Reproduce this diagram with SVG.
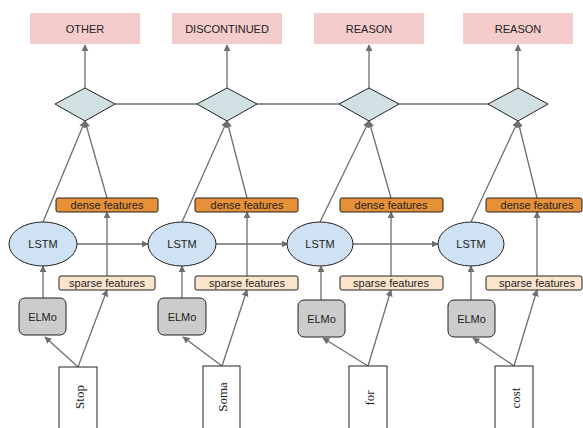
<svg xmlns="http://www.w3.org/2000/svg" width="583" height="428" viewBox="0 0 583 428">
<defs>
<marker id="ah" viewBox="0 0 10 10" refX="9" refY="5" markerWidth="7" markerHeight="7" markerUnits="userSpaceOnUse" orient="auto"><path d="M0,0 L10,5 L0,10 z" fill="#6e6e6e"/></marker>
<style>
.lbl{fill:#f4cccc}
.dia{fill:#d0e0e3;stroke:#222;stroke-width:1}
.lstm{fill:#cfe2f3;stroke:#222;stroke-width:1}
.dense{fill:#e69138;stroke:#222;stroke-width:1}
.sparse{fill:#fce5cd;stroke:#222;stroke-width:1}
.elmo{fill:#cccccc;stroke:#222;stroke-width:1}
.word{fill:#fff;stroke:#222;stroke-width:1}
.t{font-family:"Liberation Sans",Arial,sans-serif;font-size:11px;fill:#222;text-anchor:middle;dominant-baseline:central}
.w{font-family:"Liberation Serif","Times New Roman",serif;font-size:13px;fill:#222;text-anchor:middle;dominant-baseline:central}
.c{stroke:#6e6e6e;stroke-width:1.3;fill:none}
.a{marker-end:url(#ah)}
</style>
</defs>
<g id="connectors">
<line class="c" x1="115" y1="104" x2="197" y2="104"/>
<line class="c" x1="257" y1="104" x2="339" y2="104"/>
<line class="c" x1="399" y1="104" x2="488" y2="104"/>
<line class="c a" x1="85" y1="88" x2="85" y2="45"/>
<line class="c a" x1="227" y1="88" x2="227" y2="45"/>
<line class="c a" x1="369" y1="88" x2="369" y2="45"/>
<line class="c a" x1="518" y1="88" x2="518" y2="45"/>
<line class="c a" x1="43" y1="222" x2="85" y2="121"/>
<line class="c a" x1="107" y1="198" x2="85" y2="121"/>
<line class="c a" x1="182" y1="222" x2="227" y2="121"/>
<line class="c a" x1="247" y1="198" x2="227" y2="121"/>
<line class="c a" x1="320" y1="222" x2="369" y2="121"/>
<line class="c a" x1="391" y1="198" x2="369" y2="121"/>
<line class="c a" x1="471" y1="222" x2="518" y2="121"/>
<line class="c a" x1="537" y1="198" x2="518" y2="121"/>
<line class="c a" x1="77" y1="244" x2="148" y2="244"/>
<line class="c a" x1="216" y1="244" x2="288" y2="244"/>
<line class="c a" x1="353" y1="244" x2="438" y2="244"/>
<line class="c a" x1="107" y1="276" x2="107" y2="212"/>
<line class="c a" x1="247" y1="276" x2="247" y2="212"/>
<line class="c a" x1="391" y1="276" x2="391" y2="212"/>
<line class="c a" x1="537" y1="276" x2="537" y2="212"/>
<line class="c a" x1="43" y1="298" x2="43" y2="266"/>
<line class="c a" x1="182" y1="298" x2="182" y2="266"/>
<line class="c a" x1="321" y1="300" x2="321" y2="266"/>
<line class="c a" x1="471" y1="300" x2="471" y2="266"/>
<line class="c a" x1="78" y1="367" x2="45" y2="337"/>
<line class="c a" x1="78" y1="367" x2="107" y2="290"/>
<line class="c a" x1="222" y1="366" x2="183" y2="337"/>
<line class="c a" x1="222" y1="366" x2="247" y2="290"/>
<line class="c a" x1="368" y1="366" x2="323" y2="338"/>
<line class="c a" x1="368" y1="366" x2="391" y2="290"/>
<line class="c a" x1="514" y1="366" x2="473" y2="338"/>
<line class="c a" x1="514" y1="366" x2="537" y2="290"/>
</g>
<g id="out1"><rect class="lbl" x="30" y="13" width="110" height="31"/><text class="t" x="85" y="29">OTHER</text></g>
<g id="out2"><rect class="lbl" x="172" y="13" width="110" height="31"/><text class="t" x="227" y="29">DISCONTINUED</text></g>
<g id="out3"><rect class="lbl" x="314" y="13" width="110" height="31"/><text class="t" x="369" y="29">REASON</text></g>
<g id="out4"><rect class="lbl" x="463" y="13" width="110" height="31"/><text class="t" x="518" y="29">REASON</text></g>
<g id="dia1"><polygon class="dia" points="55,104 85,88 115,104 85,121"/></g>
<g id="dia2"><polygon class="dia" points="197,104 227,88 257,104 227,121"/></g>
<g id="dia3"><polygon class="dia" points="339,104 369,88 399,104 369,121"/></g>
<g id="dia4"><polygon class="dia" points="488,104 518,88 548,104 518,121"/></g>
<g id="dense1"><rect class="dense" x="56" y="198" width="102" height="14" rx="2"/><text class="t" x="107" y="205">dense features</text></g>
<g id="dense2"><rect class="dense" x="195" y="198" width="103" height="14" rx="2"/><text class="t" x="247" y="205">dense features</text></g>
<g id="dense3"><rect class="dense" x="340" y="198" width="103" height="14" rx="2"/><text class="t" x="391" y="205">dense features</text></g>
<g id="dense4"><rect class="dense" x="486" y="198" width="96" height="14" rx="2"/><text class="t" x="537" y="205">dense features</text></g>
<g id="lstm1"><ellipse class="lstm" cx="43" cy="244" rx="34" ry="22"/><text class="t" x="43" y="244">LSTM</text></g>
<g id="lstm2"><ellipse class="lstm" cx="182" cy="244" rx="34" ry="22"/><text class="t" x="182" y="244">LSTM</text></g>
<g id="lstm3"><ellipse class="lstm" cx="320" cy="244" rx="33" ry="22"/><text class="t" x="320" y="244">LSTM</text></g>
<g id="lstm4"><ellipse class="lstm" cx="471" cy="244" rx="33" ry="22"/><text class="t" x="471" y="244">LSTM</text></g>
<g id="sparse1"><rect class="sparse" x="59" y="276" width="96" height="14" rx="2"/><text class="t" x="107" y="283">sparse features</text></g>
<g id="sparse2"><rect class="sparse" x="195" y="276" width="103" height="14" rx="2"/><text class="t" x="247" y="283">sparse features</text></g>
<g id="sparse3"><rect class="sparse" x="340" y="276" width="103" height="14" rx="2"/><text class="t" x="391" y="283">sparse features</text></g>
<g id="sparse4"><rect class="sparse" x="486" y="276" width="96" height="14" rx="2"/><text class="t" x="537" y="283">sparse features</text></g>
<g id="elmo1"><rect class="elmo" x="19" y="298" width="47" height="37" rx="6"/><text class="t" x="42.5" y="317">ELMo</text></g>
<g id="elmo2"><rect class="elmo" x="158" y="298" width="48" height="37" rx="6"/><text class="t" x="182" y="317">ELMo</text></g>
<g id="elmo3"><rect class="elmo" x="298" y="300" width="47" height="37" rx="6"/><text class="t" x="321.5" y="319">ELMo</text></g>
<g id="elmo4"><rect class="elmo" x="448" y="300" width="47" height="37" rx="6"/><text class="t" x="471.5" y="319">ELMo</text></g>
<g id="word1"><rect class="word" x="59" y="367" width="38" height="62"/><text class="w" transform="translate(79,397) rotate(-90)">Stop</text></g>
<g id="word2"><rect class="word" x="203" y="366" width="37" height="63"/><text class="w" transform="translate(222,397) rotate(-90)">Soma</text></g>
<g id="word3"><rect class="word" x="349" y="366" width="38" height="63"/><text class="w" transform="translate(369,398) rotate(-90)">for</text></g>
<g id="word4"><rect class="word" x="495" y="366" width="38" height="63"/><text class="w" transform="translate(515,398) rotate(-90)">cost</text></g>
</svg>
